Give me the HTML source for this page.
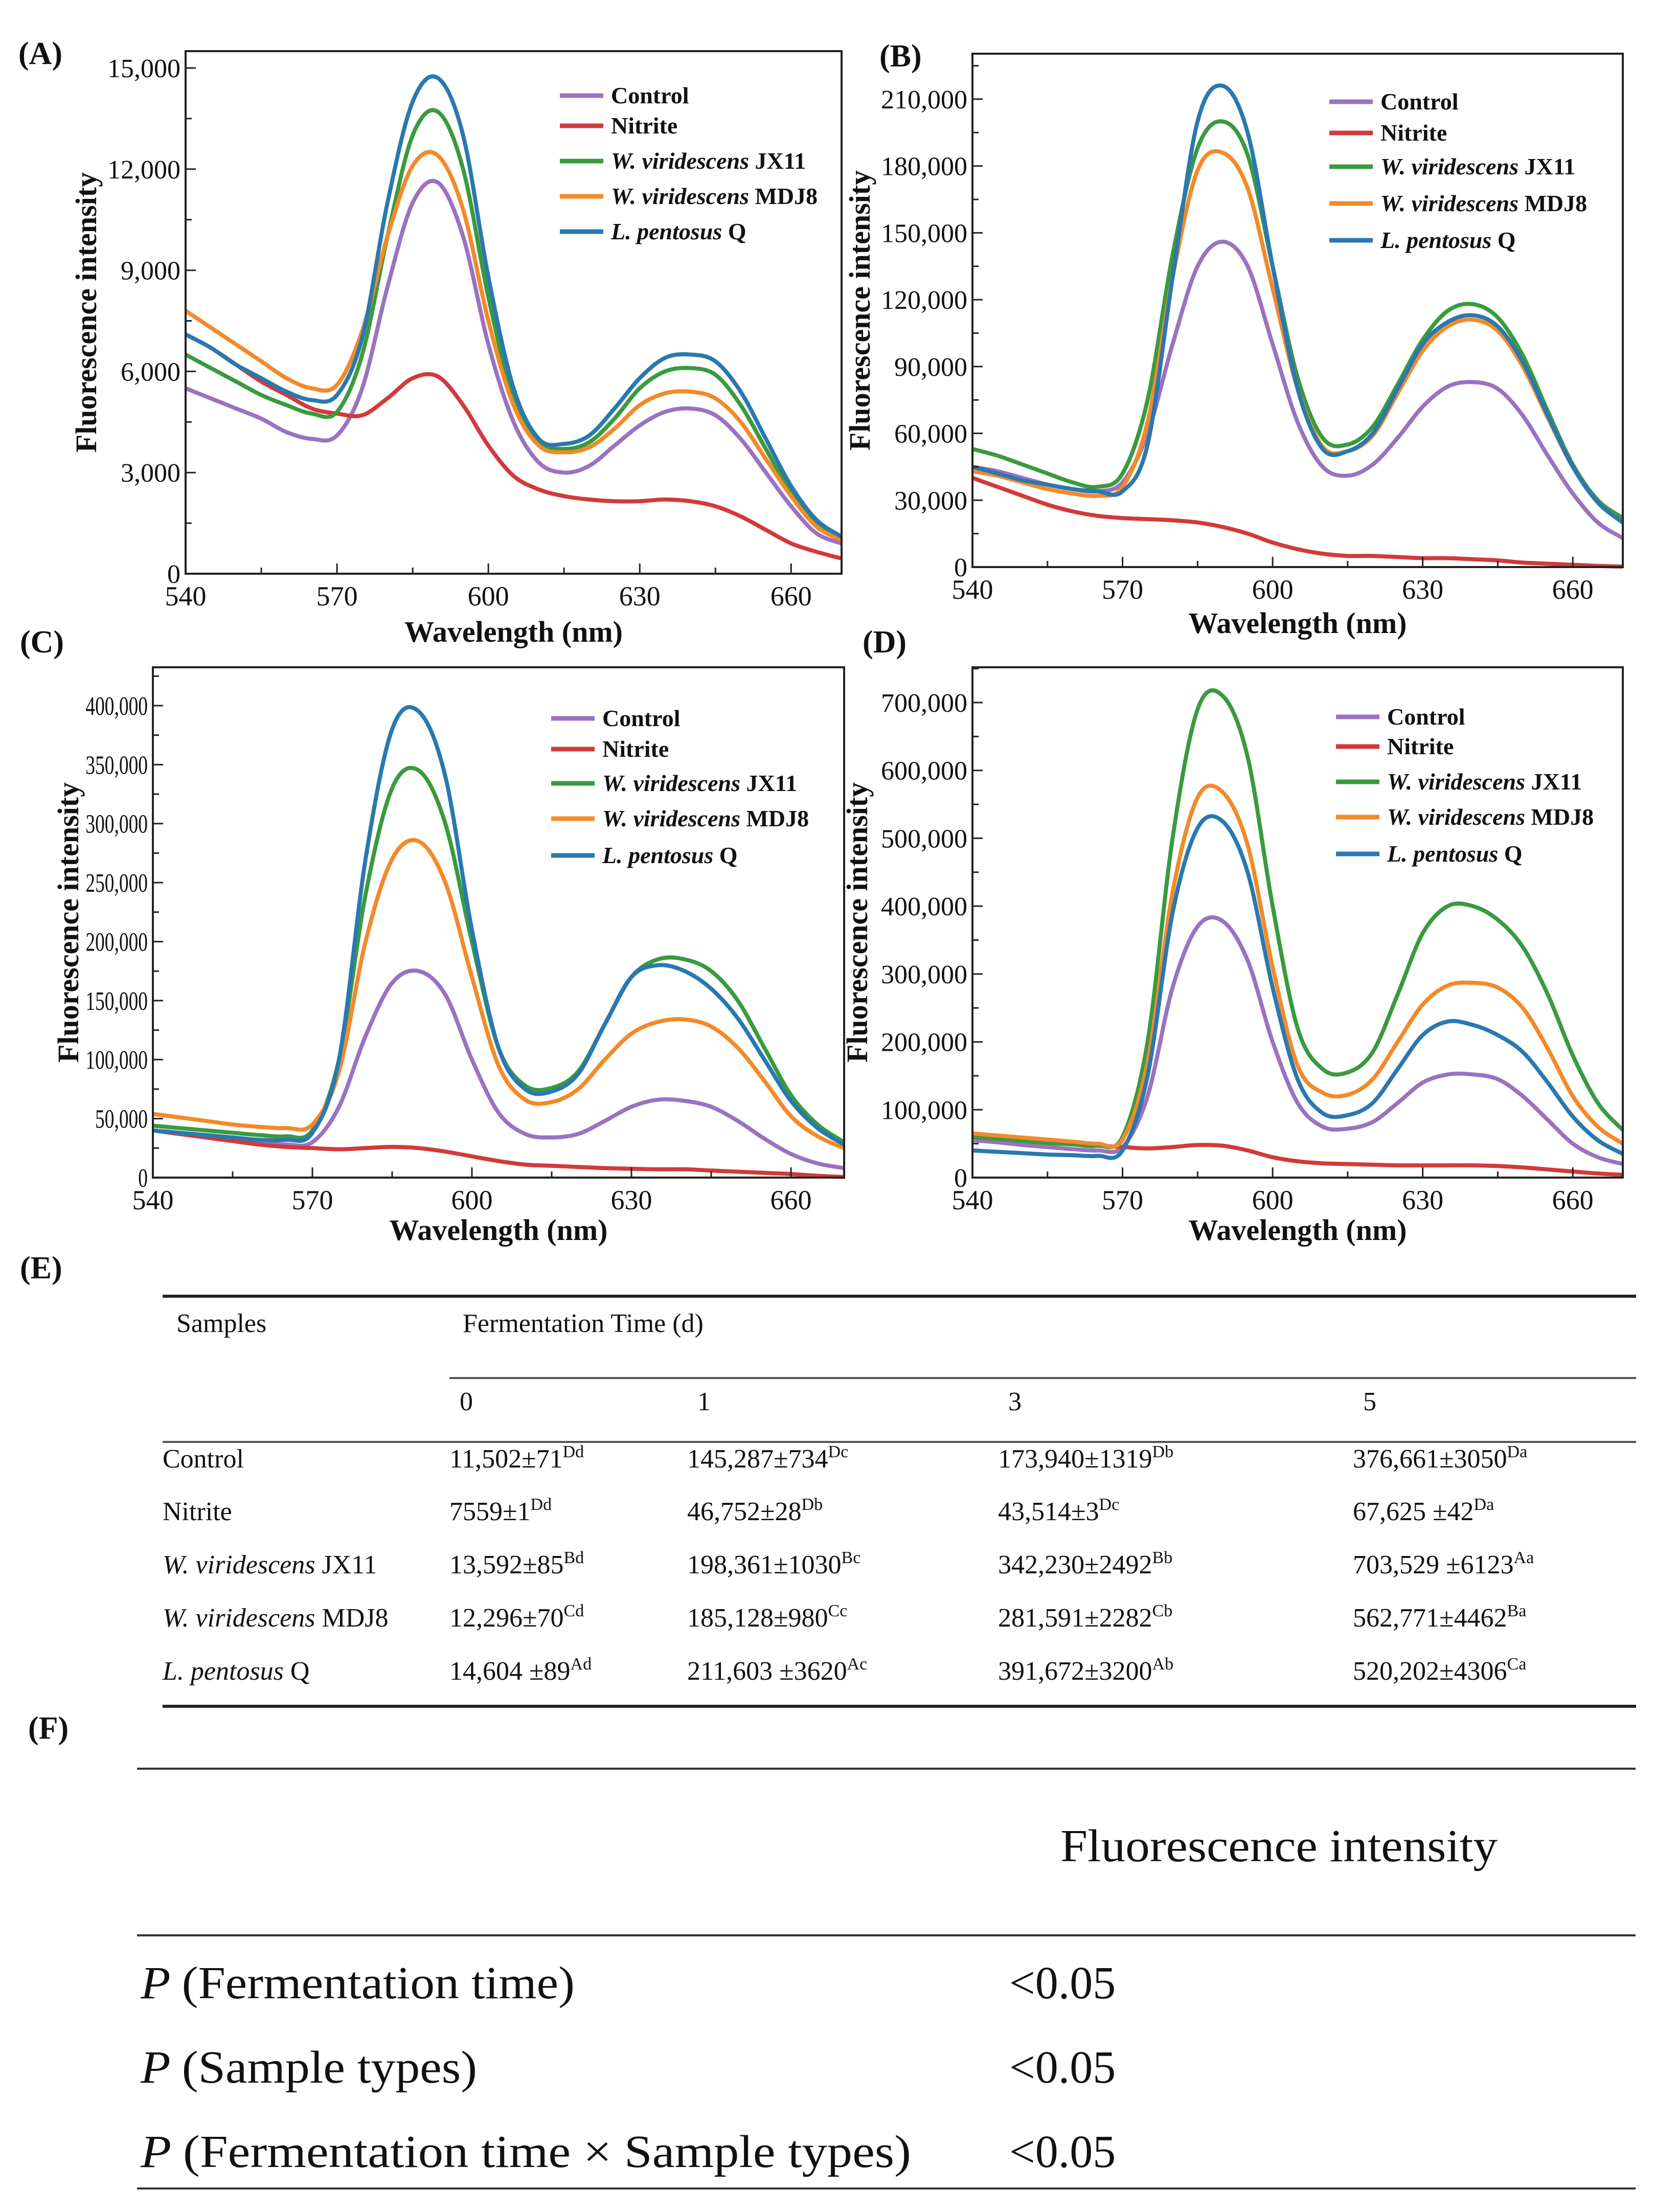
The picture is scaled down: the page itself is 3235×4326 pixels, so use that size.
<!DOCTYPE html>
<html><head><meta charset="utf-8">
<style>
html,body{margin:0;padding:0;background:#fff;}
body{width:3235px;height:4326px;position:relative;overflow:hidden;font-family:"Liberation Serif",serif;}
svg{position:absolute;left:0;top:0;}
</style></head>
<body>
<svg id="fig" width="3235" height="4326" viewBox="0 0 3235 4326" xmlns="http://www.w3.org/2000/svg" font-family="Liberation Serif, serif"></svg>
<script>
const wavelengths = [540,545,550,555,560,565,570,575,580,585,590,595,600,605,610,615,620,625,630,635,640,645,650,655,660,665,670];
const seriesNames = ["Control","Nitrite","W. viridescens JX11","W. viridescens MDJ8","L. pentosus Q"];
const seriesColors = ["#9b72c0","#d23a3a","#3a9a3e","#f28a2a","#2a78b0"];
// Panel A (x1000)
const aControl=[5.5,5.2,4.9,4.6,4.2,4.0,4.1,5.5,8.5,11.0,11.6,10.0,6.8,4.5,3.3,3.0,3.2,3.8,4.4,4.8,4.9,4.7,4.0,3.0,2.0,1.2,0.9];
const aNitrite=[7.1,6.7,6.2,5.7,5.3,4.9,4.75,4.7,5.2,5.8,5.85,5.0,3.8,2.9,2.5,2.3,2.2,2.15,2.15,2.2,2.15,2.0,1.7,1.3,0.9,0.65,0.45];
const aJX11=[6.5,6.1,5.7,5.3,5.0,4.75,4.8,6.5,10.0,13.0,13.7,12.0,8.2,5.2,3.9,3.7,3.9,4.6,5.5,6.0,6.1,5.9,5.0,3.7,2.4,1.5,1.05];
const aMDJ8=[7.8,7.3,6.8,6.3,5.8,5.5,5.6,7.2,10.0,12.1,12.4,10.8,7.5,5.0,3.8,3.6,3.75,4.3,5.0,5.35,5.4,5.2,4.5,3.4,2.3,1.4,1.0];
const aQ=[7.1,6.7,6.2,5.8,5.4,5.15,5.3,7.0,11.0,14.0,14.7,13.0,8.8,5.5,4.0,3.85,4.1,4.9,5.8,6.4,6.5,6.3,5.4,4.0,2.6,1.6,1.1];
// Panel B (x1000)
const bControl=[45,43,40,37,35,34,38,60,100,135,146,135,100,65,45,41,46,58,72,81,83,80,68,50,33,20,13];
const bNitrite=[40,36,32,28,25,23,22,21.5,21,20,18,15,11,8,6,5,5,4.5,4,4,3.5,3,2,1.5,1,0.5,0.2];
const bJX11=[53,50,46,42,38,36,42,75,140,188,200,185,135,85,58,55,63,82,102,115,118,112,95,70,46,30,22];
const bMDJ8=[43,41,38,35,33,32,36,65,130,178,186,170,125,80,54,52,59,78,97,108,111,106,90,67,45,29,20];
const bQ=[45,42,39,37,35,34,34,55,130,200,216,195,135,80,53,52,60,80,100,110,113,108,92,68,45,29,20];
// Panel C (x1000)
const cControl=[40,37,34,31,29,28,30,60,120,165,175,155,100,55,37,34,37,48,60,66,65,60,48,33,20,12,8];
const cNitrite=[40,37,34,31,28,26,25,24,25,26,25,22,18,14,11,10,9,8,7.5,7,7,6,5,4,3,1.5,0.5];
const cJX11=[44,42,40,38,36,35,40,100,240,330,345,300,200,110,78,76,90,130,170,185,185,175,150,110,70,45,30];
const cMDJ8=[54,51,48,45,43,42,45,90,200,270,285,250,170,95,66,64,75,100,122,132,134,128,110,82,52,35,25];
const cQ=[40,38,36,34,32,32,38,100,270,380,395,340,210,110,75,73,88,130,170,180,175,160,135,100,65,42,28];
// Panel D (x1000)
const dControl=[55,52,48,45,42,40,45,120,280,370,378,320,200,110,75,72,82,110,140,152,152,145,120,85,50,30,20];
const dNitrite=[60,57,54,51,49,47,45,43,45,48,47,40,30,24,21,20,19,18,18,18,18,17,15,12,9,6,4];
const dJX11=[60,57,54,51,49,47,60,200,500,690,710,620,400,220,160,155,185,270,360,400,400,380,340,270,180,110,70];
const dMDJ8=[65,62,59,56,53,50,56,170,420,560,568,490,310,165,125,122,145,200,255,283,287,280,250,190,120,75,50];
const dQ=[40,38,36,34,33,32,40,150,390,515,525,450,280,145,95,92,110,160,210,230,225,210,185,140,90,55,35];
const xTicks=[540,570,600,630,660];
const aYTicks=[0,3000,6000,9000,12000,15000];
const bYTicks=[0,30000,60000,90000,120000,150000,180000,210000];
const cYTicks=[0,50000,100000,150000,200000,250000,300000,350000,400000];
const dYTicks=[0,100000,200000,300000,400000,500000,600000,700000];

const NS="http://www.w3.org/2000/svg";
const fig=document.getElementById('fig');
function mk(tag,attrs,parent){const e=document.createElementNS(NS,tag);for(const k in attrs)e.setAttribute(k,attrs[k]);(parent||fig).appendChild(e);return e;}
function txt(x,y,s,size,opts,parent){const e=mk('text',Object.assign({x:x,y:y,'font-size':size,fill:'#111'},opts||{}),parent);e.textContent=s;return e;}
function fmt(v){return v.toLocaleString('en-US');}

const panels=[
 {id:'a',label:'(A)',lx:36,ly:125,L:363,R:1646,T:100,B:1122,ymax:15500,ticks:aYTicks,data:[aControl,aNitrite,aJX11,aMDJ8,aQ],scale:1000,ytx:168,xty:1255,legX:1095,legY:[187,246,315,384,453],cond:1},
 {id:'b',label:'(B)',lx:1720,ly:130,L:1902,R:3174,T:105,B:1109,ymax:230400,ticks:bYTicks,data:[bControl,bNitrite,bJX11,bMDJ8,bQ],scale:1000,ytx:1681,xty:1238,legX:2600,legY:[199,260,326,398,470],cond:1},
 {id:'c',label:'(C)',lx:39,ly:1276,L:299,R:1651,T:1305,B:2303,ymax:432500,ticks:cYTicks,data:[cControl,cNitrite,cJX11,cMDJ8,cQ],scale:1000,ytx:133,xty:2425,legX:1078,legY:[1405,1465,1532,1601,1673],cond:0.72},
 {id:'d',label:'(D)',lx:1687,ly:1276,L:1902,R:3174,T:1305,B:2303,ymax:752000,ticks:dYTicks,data:[dControl,dNitrite,dJX11,dMDJ8,dQ],scale:1000,ytx:1676,xty:2425,legX:2613,legY:[1402,1460,1529,1598,1670],cond:1}
];

function smoothPath(pts){
  let d='M'+pts[0][0].toFixed(1)+','+pts[0][1].toFixed(1);
  for(let i=0;i<pts.length-1;i++){
    const p0=pts[Math.max(0,i-1)],p1=pts[i],p2=pts[i+1],p3=pts[Math.min(pts.length-1,i+2)];
    const c1x=p1[0]+(p2[0]-p0[0])/6,c1y=p1[1]+(p2[1]-p0[1])/6;
    const c2x=p2[0]-(p3[0]-p1[0])/6,c2y=p2[1]-(p3[1]-p1[1])/6;
    d+=' C'+c1x.toFixed(1)+','+c1y.toFixed(1)+' '+c2x.toFixed(1)+','+c2y.toFixed(1)+' '+p2[0].toFixed(1)+','+p2[1].toFixed(1);
  }
  return d;
}

panels.forEach(p=>{
  const g=mk('g',{});
  
  
  const xs=v=>p.L+(v-540)/(670-540)*(p.R-p.L);
  const ys=v=>p.B-v/p.ymax*(p.B-p.T);
  const lab=txt(p.lx,p.ly,p.label,62,{'font-weight':'bold'},g);
  
  
  p.data.forEach((arr,si)=>{
    const pts=arr.map((v,i)=>[xs(wavelengths[i]),ys(v*p.scale)]);
    const path=mk('path',{d:smoothPath(pts),fill:'none',stroke:seriesColors[si],'stroke-width':8,'stroke-linejoin':'round'},g);
    
    
  });
  const fr=mk('rect',{x:p.L,y:p.T,width:p.R-p.L,height:p.B-p.T,fill:'none',stroke:'#222','stroke-width':4},g);
  
  
  for(let w=540;w<=670;w+=15){
    const major=(w-540)%30===0;
    mk('line',{x1:xs(w),x2:xs(w),y1:p.B,y2:p.B-(major?20:12),stroke:'#222','stroke-width':3},g);
  }
  xTicks.forEach(w=>{
    const t=txt(xs(w),p.B+62,String(w),54,{'text-anchor':'middle'},g);
    
    
  });
  const step=p.ticks[1]-p.ticks[0];
  for(let v=0;v<=p.ymax;v+=step/2){
    const major=(v%step)===0;
    mk('line',{x1:p.L,x2:p.L+(major?20:12),y1:ys(v),y2:ys(v),stroke:'#222','stroke-width':3},g);
  }
  p.ticks.forEach(v=>{
    const t=txt(0,0,fmt(v),52,{'text-anchor':'end',transform:'translate('+(p.L-10)+','+(ys(v)+18)+') scale('+p.cond+',1)'},g);
    
    
  });
  const xt=txt((p.L+p.R)/2,p.xty,'Wavelength (nm)',58,{'text-anchor':'middle','font-weight':'bold'},g);
  
  
  const yt=txt(0,0,'Fluorescence intensity',58,{'text-anchor':'middle','font-weight':'bold',transform:'translate('+(p.ytx+20)+','+((p.T+p.B)/2)+') rotate(-90)'},g);
  
  
  seriesNames.forEach((n,si)=>{
    const y=p.legY[si];
    const ln=mk('line',{x1:p.legX,x2:p.legX+85,y1:y,y2:y,stroke:seriesColors[si],'stroke-width':9},g);
    
    
    const t=mk('text',{x:p.legX+100,y:y+15,'font-size':46,'font-weight':'bold',fill:'#111'},g);
    
    
    const parts=n.split(' ');
    if(parts.length>1 && n.indexOf('.')>0){
      const last=parts.pop();
      const it=mk('tspan',{'font-style':'italic'},t);it.textContent=parts.join(' ')+' ';
      const rs=mk('tspan',{},t);rs.textContent=last;
    } else t.textContent=n;
  });
});

// Table E
const E=mk('g',{});


const le=txt(39,2500,'(E)',62,{'font-weight':'bold'},E);


mk('line',{x1:318,x2:3200,y1:2535,y2:2535,stroke:'#222','stroke-width':6},E);
mk('line',{x1:879,x2:3200,y1:2695,y2:2695,stroke:'#555','stroke-width':4},E);
mk('line',{x1:318,x2:3200,y1:2820,y2:2820,stroke:'#555','stroke-width':4},E);
mk('line',{x1:318,x2:3200,y1:3337,y2:3337,stroke:'#222','stroke-width':6},E);
const fs=52;
txt(345,2605,'Samples',fs,{},E);
txt(905,2605,'Fermentation Time (d)',fs,{},E);
const colX=[879,1344,1952,2646];
['0','1','3','5'].forEach((s,i)=>txt(colX[i]+20,2758,s,fs,{},E));
const rowsNames=[['','Control'],['','Nitrite'],['W. viridescens',' JX11'],['W. viridescens',' MDJ8'],['L. pentosus',' Q']];
const rowsVals=[
 [['11,502±71','Dd'],['145,287±734','Dc'],['173,940±1319','Db'],['376,661±3050','Da']],
 [['7559±1','Dd'],['46,752±28','Db'],['43,514±3','Dc'],['67,625 ±42','Da']],
 [['13,592±85','Bd'],['198,361±1030','Bc'],['342,230±2492','Bb'],['703,529 ±6123','Aa']],
 [['12,296±70','Cd'],['185,128±980','Cc'],['281,591±2282','Cb'],['562,771±4462','Ba']],
 [['14,604 ±89','Ad'],['211,603 ±3620','Ac'],['391,672±3200','Ab'],['520,202±4306','Ca']]
];
const rowY=[2870,2973,3077,3181,3285];
rowsNames.forEach((r,ri)=>{
  const t=mk('text',{x:318,y:rowY[ri],'font-size':fs,fill:'#111'},E);
  
  
  if(r[0]){const a=mk('tspan',{'font-style':'italic'},t);a.textContent=r[0];}
  const b=mk('tspan',{},t);b.textContent=r[1];
  rowsVals[ri].forEach((v,ci)=>{
    const c=mk('text',{x:colX[ci],y:rowY[ri],'font-size':fs,fill:'#111'},E);
    
    
    const m=mk('tspan',{},c);m.textContent=v[0];
    const s=mk('tspan',{'font-size':34,dy:-20},c);s.textContent=v[1];
  });
});

// Table F
const F=mk('g',{});


const lf=txt(55,3400,'(F)',62,{'font-weight':'bold'},F);


mk('line',{x1:268,x2:3199,y1:3459,y2:3459,stroke:'#333','stroke-width':4},F);
mk('line',{x1:268,x2:3199,y1:3785,y2:3785,stroke:'#333','stroke-width':4},F);
mk('line',{x1:268,x2:3199,y1:4280,y2:4280,stroke:'#333','stroke-width':4},F);
txt(2074,3640,'Fluorescence intensity',90,{textLength:855,lengthAdjust:'spacingAndGlyphs'},F);
const fRows=['(Fermentation time)','(Sample types)','(Fermentation time × Sample types)'];
const fLens=[849,658,1507];
const fY=[3908,4073,4238];
fRows.forEach((s,i)=>{
  const t=mk('text',{x:275,y:fY[i],'font-size':90,fill:'#111',textLength:fLens[i],lengthAdjust:'spacingAndGlyphs'},F);
  
  
  const a=mk('tspan',{'font-style':'italic'},t);a.textContent='P ';
  const b=mk('tspan',{},t);b.textContent=s;
  txt(1974,fY[i],'<0.05',90,{},F);
});
</script>
</body></html>
